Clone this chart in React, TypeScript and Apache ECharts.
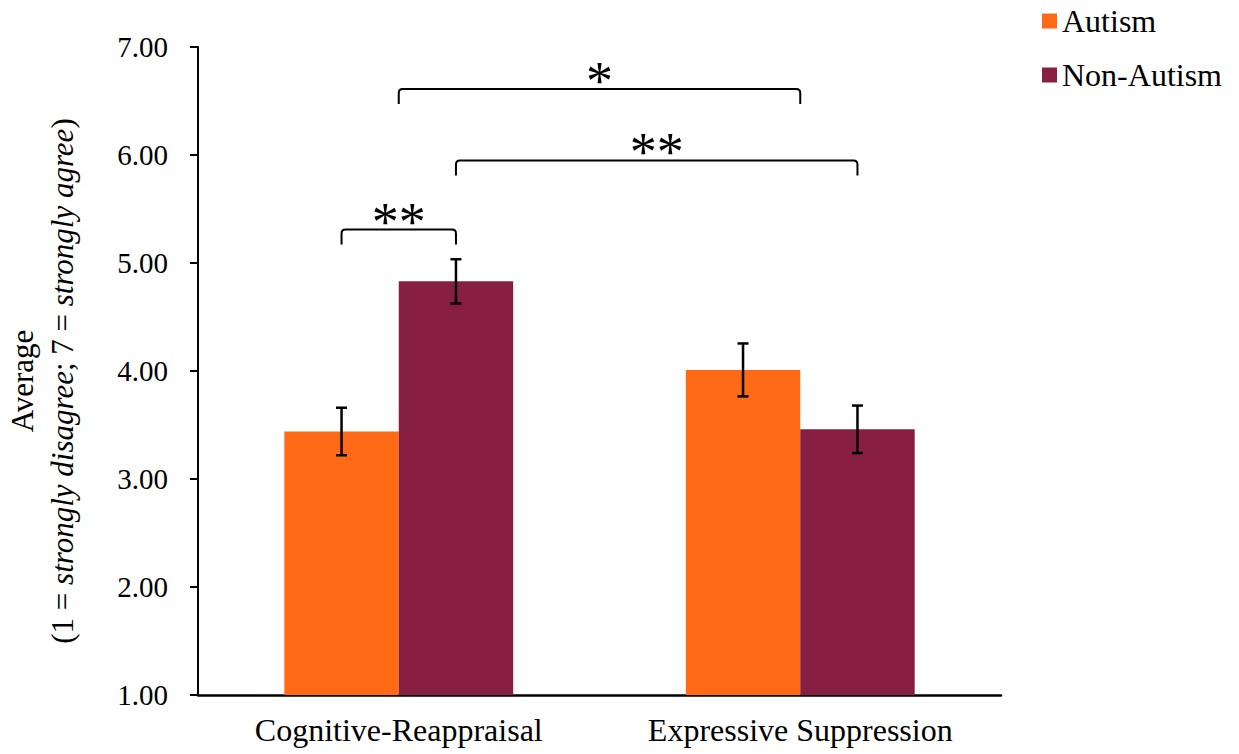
import React, { useEffect, useRef } from "react";
import * as echarts from "echarts";

// Emotion-regulation strategy scores by group
const categories = ["Cognitive-Reappraisal", "Expressive Suppression"];
const seriesNames = ["Autism", "Non-Autism"];
const autismMeans = [3.44, 4.01];
const nonAutismMeans = [4.83, 3.46];
const autismErrors = [0.22, 0.245];
const nonAutismErrors = [0.205, 0.22];

// Significance brackets: [category, side] where side -1 = Autism bar, 0 = category centre, 1 = Non-Autism bar
const bracketStarts = [[0, -1], [0, 0], [0, 1]];
const bracketEnds = [[0, 1], [1, 0], [1, 1]];
const bracketHeights = [5.31, 6.61, 5.95];
const bracketLabels = ["**", "*", "**"];

const COLORS = ["#FE6A16", "#861F41"];
const FONT = "Liberation Serif, Times New Roman, serif";
const CATEGORY_GAP = 0.43;

function barOffset(api: any, side: number) {
  const band = api.size([1, 0])[0];
  const barW = (band * (1 - CATEGORY_GAP)) / 2;
  return (side * barW) / 2;
}

function errorBarRenderer(side: number) {
  return (params: any, api: any) => {
    const cat = api.value(0);
    const mean = api.value(1);
    const err = api.value(2);
    const x = api.coord([cat, mean])[0] + barOffset(api, side);
    const top = api.coord([cat, mean + err])[1];
    const bot = api.coord([cat, mean - err])[1];
    const cap = 5.5;
    const style = { stroke: "#000", lineWidth: 2.5 };
    return {
      type: "group",
      children: [
        { type: "line", shape: { x1: x, y1: top, x2: x, y2: bot }, style },
        { type: "line", shape: { x1: x - cap, y1: top, x2: x + cap, y2: top }, style },
        { type: "line", shape: { x1: x - cap, y1: bot, x2: x + cap, y2: bot }, style },
      ],
    };
  };
}

function bracketRenderer(params: any, api: any) {
  const i = params.dataIndex;
  const [c1, s1] = bracketStarts[i];
  const [c2, s2] = bracketEnds[i];
  const h = bracketHeights[i];
  const x1 = api.coord([c1, h])[0] + barOffset(api, s1);
  const x2 = api.coord([c2, h])[0] + barOffset(api, s2);
  const yTop = api.coord([c1, h])[1];
  const yLeg = yTop + 15;
  const r = 4;
  const d =
    `M${x1},${yLeg} L${x1},${yTop + r} Q${x1},${yTop} ${x1 + r},${yTop} ` +
    `L${x2 - r},${yTop} Q${x2},${yTop} ${x2},${yTop + r} L${x2},${yLeg}`;
  return {
    type: "group",
    children: [
      {
        type: "path",
        shape: { pathData: d },
        style: { fill: "none", stroke: "#000", lineWidth: 2 },
      },
      {
        type: "text",
        x: (x1 + x2) / 2,
        y: yTop - 8,
        style: {
          text: bracketLabels[i],
          fill: "#000",
          font: `54px ${FONT}`,
          align: "center",
          verticalAlign: "middle",
        },
      },
    ],
  };
}

export default function App() {
  const ref = useRef<HTMLDivElement>(null);

  useEffect(() => {
    if (!ref.current) return;
    const chart = echarts.init(ref.current, null, { renderer: "svg" });
    chart.setOption({
      animation: false,
      backgroundColor: "#fff",
      textStyle: { fontFamily: FONT },
      grid: { left: 198, right: 238, top: 47, bottom: 59, containLabel: false },
      legend: {
        data: seriesNames,
        orient: "vertical",
        left: 1042,
        top: 5,
        padding: 0,
        icon: "rect",
        itemWidth: 15,
        itemHeight: 15,
        itemGap: 22,
        itemStyle: { borderWidth: 0 },
        textStyle: { fontFamily: FONT, fontSize: 32, color: "#000" },
      },
      xAxis: {
        type: "category",
        data: categories,
        axisLine: { lineStyle: { color: "#000", width: 2.5 } },
        axisTick: { show: false },
        axisLabel: { color: "#000", fontFamily: FONT, fontSize: 32, margin: 19 },
      },
      yAxis: {
        type: "value",
        min: 1,
        max: 7,
        interval: 1,
        splitLine: { show: false },
        axisLine: { show: true, lineStyle: { color: "#000", width: 2 } },
        axisTick: { show: true, length: 8, lineStyle: { color: "#000", width: 2 } },
        axisLabel: {
          color: "#000",
          fontFamily: FONT,
          fontSize: 29,
          margin: 30,
          formatter: (v: number) => v.toFixed(2),
        },
      },
      graphic: [
        {
          type: "text",
          x: 42,
          y: 381,
          rotation: Math.PI / 2,
          style: {
            text:
              "{n|Average}\n{n|(1 = }{i|strongly disagree}{n|; 7 = }{i|strongly agree}{n|)}",
            align: "center",
            verticalAlign: "middle",
            fill: "#000",
            font: `31px ${FONT}`,
            rich: {
              n: { font: `31px ${FONT}`, lineHeight: 40, fill: "#000" },
              i: { font: `italic 31px ${FONT}`, lineHeight: 40, fill: "#000" },
            },
          },
        },
      ],
      series: [
        {
          name: seriesNames[0],
          type: "bar",
          data: autismMeans,
          barGap: "0%",
          barCategoryGap: `${CATEGORY_GAP * 100}%`,
          itemStyle: { color: COLORS[0] },
        },
        {
          name: seriesNames[1],
          type: "bar",
          data: nonAutismMeans,
          barGap: "0%",
          barCategoryGap: `${CATEGORY_GAP * 100}%`,
          itemStyle: { color: COLORS[1] },
        },
        {
          name: "autism-error",
          type: "custom",
          renderItem: errorBarRenderer(-1),
          data: autismMeans.map((m, i) => [i, m, autismErrors[i]]),
          encode: { x: 0, y: 1 },
          z: 5,
          silent: true,
        },
        {
          name: "non-autism-error",
          type: "custom",
          renderItem: errorBarRenderer(1),
          data: nonAutismMeans.map((m, i) => [i, m, nonAutismErrors[i]]),
          encode: { x: 0, y: 1 },
          z: 5,
          silent: true,
        },
        {
          name: "brackets",
          type: "custom",
          renderItem: bracketRenderer,
          data: bracketHeights.map((h, i) => [bracketStarts[i][0], h]),
          encode: { x: 0, y: 1 },
          clip: false,
          z: 5,
          silent: true,
        },
      ],
    });
    return () => chart.dispose();
  }, []);

  return (
    <div
      ref={ref}
      style={{ position: "fixed", left: 0, top: 0, width: 1239, height: 754, background: "#fff" }}
    />
  );
}
